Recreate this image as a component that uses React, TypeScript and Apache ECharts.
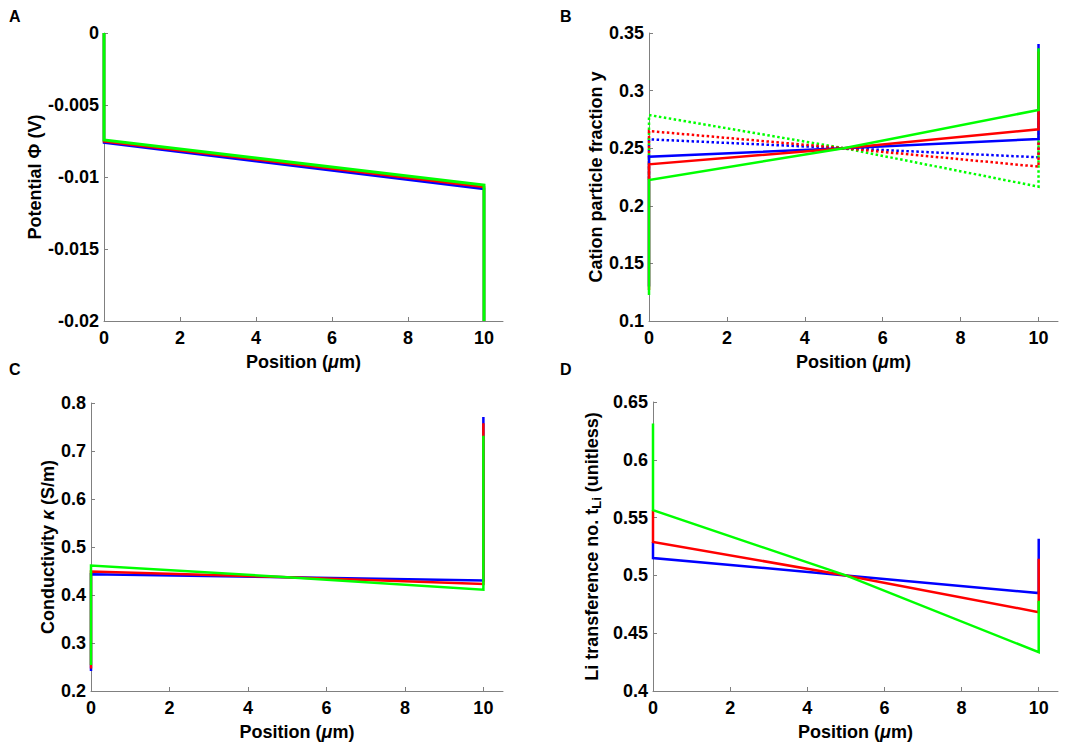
import React, { useEffect, useRef } from "react";
import * as echarts from "echarts";

// ---------- tick labels ----------
const xTicks = [0, 2, 4, 6, 8, 10];
const potTicks = [-0.02, -0.015, -0.01, -0.005, 0];
const fracTicks = [0.1, 0.15, 0.2, 0.25, 0.3, 0.35];
const condTicks = [0.2, 0.3, 0.4, 0.5, 0.6, 0.7, 0.8];
const transTicks = [0.4, 0.45, 0.5, 0.55, 0.6, 0.65];

// ---------- Panel A: potential (V) ----------
const posA = [0, 0, 10, 10];
const potBlue = [0, -0.00762, -0.01083, -0.02];
const potRed = [0, -0.00752, -0.0107, -0.02];
const potGreen = [0, -0.00743, -0.01056, -0.02];

// ---------- Panel B: cation particle fraction ----------
const posB = [0, 0, 5, 10, 10];
const fracBlueSolid = [0.13, 0.2426, 0.25, 0.258, 0.3405];
const fracRedSolid = [0.127, 0.236, 0.25, 0.2664, 0.334];
const fracGreenSolid = [0.1226, 0.2224, 0.25, 0.2832, 0.3367];
const fracBlueDot = [0.2426, 0.2577, 0.25, 0.2421, 0.258];
const fracRedDot = [0.224, 0.2649, 0.25, 0.234, 0.281];
const fracGreenDot = [0.2224, 0.2788, 0.25, 0.2166, 0.2832];

// ---------- Panel C: conductivity (S/m) ----------
const posC = [0, 0, 5, 10, 10];
const condBlue = [0.2417, 0.443, 0.437, 0.43, 0.771];
const condRed = [0.247, 0.449, 0.437, 0.423, 0.758];
const condGreen = [0.254, 0.4615, 0.437, 0.411, 0.732];

// ---------- Panel D: Li transference number ----------
const posD = [0, 0, 5, 10, 10];
const transBlue = [0.529, 0.515, 0.5, 0.4847, 0.5318];
const transRed = [0.5564, 0.5289, 0.5, 0.4682, 0.5144];
const transGreen = [0.6315, 0.5564, 0.5, 0.4335, 0.478];

const BLUE = "#0000FF";
const RED = "#FF0000";
const GREEN = "#00FF00";
const FONT = "'Liberation Sans', Arial, Helvetica, sans-serif";
const AXIS_GREY = "#808080";
const NAME_SIZE = 18;
const TICK_SIZE = 18;

const pairs = (xs: number[], ys: number[]) => xs.map((x, i) => [x, ys[i]]);

const nameStyle = (extraRich: any = {}) => ({
  fontFamily: FONT,
  fontSize: NAME_SIZE,
  fontWeight: "bold",
  color: "#000",
  rich: {
    n: { fontFamily: FONT, fontSize: NAME_SIZE, fontWeight: "bold", color: "#000" },
    i: { fontFamily: FONT, fontSize: NAME_SIZE, fontWeight: "bold", fontStyle: "italic", color: "#000" },
    ...extraRich,
  },
});

const labelStyle = {
  fontFamily: FONT,
  fontSize: TICK_SIZE,
  fontWeight: "bold",
  color: "#000",
};

function xAxisCfg(gridIndex: number) {
  return {
    type: "value",
    gridIndex,
    min: 0,
    max: 10.5,
    name: "{n|Position (}{i|μ}{n|m)}",
    nameLocation: "middle",
    nameGap: 32,
    nameTextStyle: nameStyle(),
    axisLine: { show: true, onZero: false, lineStyle: { color: AXIS_GREY, width: 1 } },
    axisTick: { show: true, inside: true, length: 4, customValues: xTicks, lineStyle: { color: AXIS_GREY } },
    axisLabel: { ...labelStyle, margin: 8, customValues: xTicks },
    splitLine: { show: false },
  };
}

function yAxisCfg(gridIndex: number, min: number, max: number, ticks: number[], name: string, nameGap: number, extraRich: any = {}) {
  return {
    type: "value",
    gridIndex,
    min,
    max,
    name,
    nameLocation: "middle",
    nameRotate: 90,
    nameGap,
    nameTextStyle: nameStyle(extraRich),
    axisLine: { show: true, onZero: false, lineStyle: { color: AXIS_GREY, width: 1 } },
    axisTick: { show: true, inside: true, length: 4, customValues: ticks, lineStyle: { color: AXIS_GREY } },
    axisLabel: { ...labelStyle, margin: 5, customValues: ticks },
    splitLine: { show: false },
  };
}

function lineSeries(idx: number, xs: number[], ys: number[], color: string, width = 2.5, dotted = false) {
  return {
    type: "line",
    xAxisIndex: idx,
    yAxisIndex: idx,
    data: pairs(xs, ys),
    showSymbol: false,
    symbol: "none",
    clip: false,
    lineStyle: { color, width, type: dotted ? [2.5, 2.5] : "solid", cap: "butt", join: "miter" },
    emphasis: { disabled: true },
    silent: true,
  };
}

const panelLetter = (text: string, x: number, y: number) => ({
  type: "text",
  x,
  y,
  style: { text, fontFamily: FONT, fontSize: 16, fontWeight: "bold", fill: "#000", textVerticalAlign: "top" },
});

export default function App() {
  const ref = useRef<HTMLDivElement>(null);
  useEffect(() => {
    if (!ref.current) return;
    const chart = echarts.init(ref.current, null, { renderer: "svg" });
    const option: any = {
      animation: false,
      backgroundColor: "#fff",
      grid: [
        { left: 104, top: 33, width: 399, height: 288, outerBoundsMode: "none" },
        { left: 649, top: 33, width: 409, height: 288, outerBoundsMode: "none" },
        { left: 91, top: 403, width: 412, height: 288, outerBoundsMode: "none" },
        { left: 653, top: 402, width: 405, height: 289, outerBoundsMode: "none" },
      ],
      xAxis: [xAxisCfg(0), xAxisCfg(1), xAxisCfg(2), xAxisCfg(3)],
      yAxis: [
        yAxisCfg(0, -0.02, 0, potTicks, "{n|Potential Φ (V)}", 60),
        yAxisCfg(1, 0.1, 0.35, fracTicks, "{n|Cation particle fraction y}", 44),
        yAxisCfg(2, 0.2, 0.8, condTicks, "{n|Conductivity }{i|κ}{n| (S/m)}", 34),
        yAxisCfg(3, 0.4, 0.65, transTicks, "{n|Li transference no. t}{s|Li}{n| (unitless)}", 50, {
          s: { fontFamily: FONT, fontSize: 13, fontWeight: "bold", color: "#000", verticalAlign: "bottom", padding: [10, 0, 0, 0] },
        }),
      ],
      series: [
        lineSeries(0, posA, potBlue, BLUE, 2.5),
        lineSeries(0, posA, potRed, RED, 2.5),
        lineSeries(0, posA, potGreen, GREEN, 3),

        lineSeries(1, posB, fracBlueDot, BLUE, 2.5, true),
        lineSeries(1, posB, fracGreenDot, GREEN, 2.5, true),
        lineSeries(1, posB, fracRedDot, RED, 2.5, true),
        lineSeries(1, posB, fracBlueSolid, BLUE, 2.5),
        lineSeries(1, posB, fracRedSolid, RED, 2.5),
        lineSeries(1, posB, fracGreenSolid, GREEN, 2.5),

        lineSeries(2, posC, condBlue, BLUE, 2.5),
        lineSeries(2, posC, condRed, RED, 2.5),
        lineSeries(2, posC, condGreen, GREEN, 2.5),

        lineSeries(3, posD, transBlue, BLUE, 2.5),
        lineSeries(3, posD, transRed, RED, 2.5),
        lineSeries(3, posD, transGreen, GREEN, 2.5),
      ],
      graphic: [
        panelLetter("A", 9, 8),
        panelLetter("B", 560, 8),
        panelLetter("C", 9, 361),
        panelLetter("D", 560, 361),
      ],
    };
    chart.setOption(option);
    return () => chart.dispose();
  }, []);
  return (
    <div
      ref={ref}
      style={{ position: "fixed", left: 0, top: 0, width: 1084, height: 746, background: "#fff" }}
    />
  );
}
